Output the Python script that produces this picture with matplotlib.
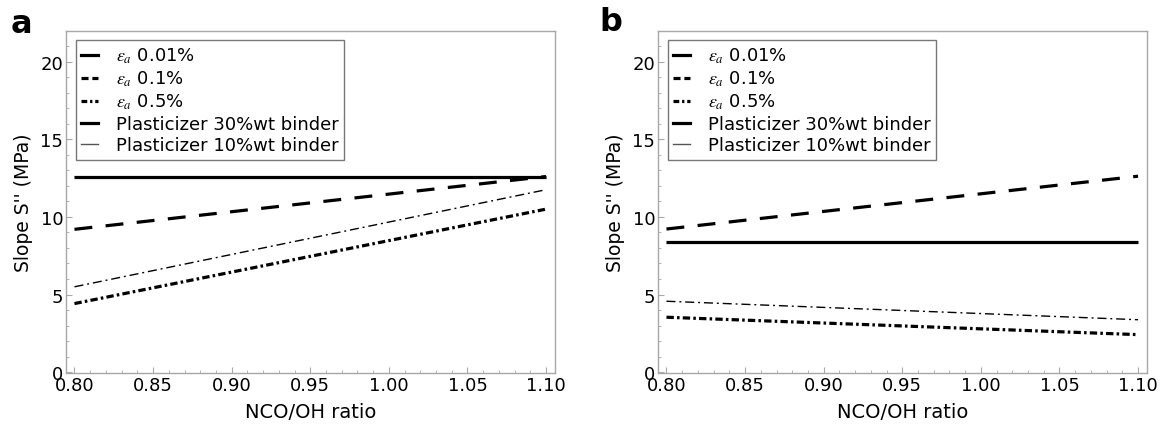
import matplotlib
matplotlib.use("Agg")
import matplotlib.pyplot as plt
from matplotlib.lines import Line2D
from matplotlib.ticker import MultipleLocator, FormatStrFormatter

plt.rcParams['font.family'] = ['DejaVu Sans']
plt.rcParams['mathtext.fontset'] = 'stix'

# NCO/OH ratio end points of each straight line
ratio = [0.80, 1.10]

# panel a
a_solid = [12.6, 12.6]
a_dashed = [9.2, 12.6]
a_thin_dashdot = [5.5, 11.75]
a_thick_dashdot = [4.42, 10.5]

# panel b
b_solid = [8.37, 8.37]
b_dashed = [9.22, 12.62]
b_thin_dashdot = [4.57, 3.38]
b_thick_dashdot = [3.54, 2.42]

legend_labels = [r"$\varepsilon_a$ 0.01%", r"$\varepsilon_a$ 0.1%", r"$\varepsilon_a$ 0.5%",
                 "Plasticizer 30%wt binder", "Plasticizer 10%wt binder"]

frame_col = "#a8a8a8"
thick = 2.3
thin = 1.0


def draw_panel(ax, solid, dashed, thin_dd, thick_dd):
    ax.plot(ratio, solid, color="black", lw=thick, solid_capstyle="butt")
    ax.plot(ratio, dashed, color="black", lw=thick, linestyle=(0, (5.6, 4.2)), dash_capstyle="butt")
    ax.plot(ratio, thin_dd, color="black", lw=thin, linestyle=(0, (6.5, 2.8, 1.4, 2.8)))
    ax.plot(ratio, thick_dd, color="black", lw=thick, linestyle=(0, (2.3, 1.0, 0.8, 1.0)),
            dash_capstyle="butt")

    ax.set_xlim(0.7946, 1.1057)
    ax.set_ylim(-0.05, 22.0)
    ax.xaxis.set_major_locator(MultipleLocator(0.05))
    ax.xaxis.set_minor_locator(MultipleLocator(0.01))
    ax.xaxis.set_major_formatter(FormatStrFormatter("%.2f"))
    ax.yaxis.set_major_locator(MultipleLocator(5))
    ax.yaxis.set_minor_locator(MultipleLocator(1))
    ax.tick_params(which="both", direction="in", color=frame_col, labelsize=13, pad=2)
    ax.tick_params(which="major", length=4.5, width=0.8)
    ax.tick_params(which="minor", length=2.5, width=0.6)
    for s in ax.spines.values():
        s.set_color(frame_col)
        s.set_linewidth(1.0)

    ax.set_xlabel("NCO/OH ratio", fontsize=14, labelpad=6)
    ax.set_ylabel("Slope S'' (MPa)", fontsize=13.5, labelpad=5)

    handles = [
        Line2D([], [], color="black", lw=thick),
        Line2D([], [], color="black", lw=thick, linestyle=(0, (2.2, 1.2))),
        Line2D([], [], color="black", lw=thick, linestyle=(0, (1.8, 0.9, 0.7, 0.9))),
        Line2D([], [], color="black", lw=thick),
        Line2D([], [], color="#555555", lw=1.0),
    ]
    leg = ax.legend(handles, legend_labels, loc="upper left", bbox_to_anchor=(0.0204, 0.971),
                    fontsize=13, frameon=True, fancybox=False, handlelength=0.9,
                    handletextpad=1.0, labelspacing=0.2, borderpad=0.3, borderaxespad=0.0)
    leg.get_frame().set_edgecolor("#555555")
    leg.get_frame().set_linewidth(1.0)


fig = plt.figure(figsize=(11.64, 4.31), dpi=100)
ax1 = fig.add_axes([66 / 1164, (431 - 374) / 431, 489 / 1164, 342.5 / 431])
ax2 = fig.add_axes([658 / 1164, (431 - 374) / 431, 489 / 1164, 342.5 / 431])

draw_panel(ax1, a_solid, a_dashed, a_thin_dashdot, a_thick_dashdot)
draw_panel(ax2, b_solid, b_dashed, b_thin_dashdot, b_thick_dashdot)

fig.text(11 / 1164, 1 - 33 / 431, "a", fontsize=23, fontweight="bold", va="baseline", ha="left")
fig.text(599 / 1164, 1 - 31 / 431, "b", fontsize=23, fontweight="bold", va="baseline", ha="left")

fig.savefig("out.png", dpi=100)
